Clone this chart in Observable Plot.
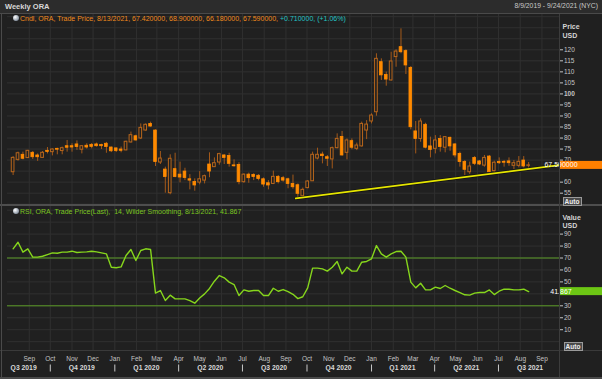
<!DOCTYPE html>
<html><head><meta charset="utf-8">
<script src="https://cdn.jsdelivr.net/npm/d3@7"></script>
<script src="https://cdn.jsdelivr.net/npm/@observablehq/plot@0.6"></script>
<style>
html,body{margin:0;padding:0;background:#202020;}
#wrap{position:relative;width:602px;height:379px;overflow:hidden;background:#202020;font-family:"Liberation Sans",Arial,sans-serif;}
#wrap svg{position:absolute;left:0;top:0;}
.t{position:absolute;white-space:nowrap;line-height:1;}
.ln{position:absolute;}
.auto{position:absolute;width:17px;height:7px;background:#4a4a4a;border:1px solid #9a9a9a;color:#eee;font-size:6.5px;line-height:7px;text-align:center;font-weight:bold;}
.icon{position:absolute;width:6px;height:6px;border-radius:50%;background:radial-gradient(circle at 35% 35%,#ffffff,#9aa4b0 60%,#5a6470);}
</style></head><body><div id="wrap">
<div class="ln" style="left:0;top:0;width:602px;height:13px;background:#2c2c2c;"></div>
<div class="ln" style="left:0;top:13px;width:602px;height:1px;background:#4a4a4a;"></div>
</div>
<script>
// ---- data ----
const startWeek = "2019-08-09";
const open  = [64.5,70.1,72.4,70.9,73.3,72.1,71.0,74.2,73.6,75.1, 74.1,76.3,76.3,77.1,74.7,76.5,76.9,77.1,76.8,77.4,
  75.7,75.3,74.8,74.4,78.0,80.8,79.8,83.4,86.4,83.4, 68.9,65.7,55.0,65.9,63.4,64.8,61.3,60.1,59.8,60.7,
  68.0,66.8,68.9,72.1,71.9,67.6,67.8,60.0,63.4,63.3, 62.9,61.3,59.5,59.2,62.4,61.8,61.3,59.2,58.6,53.6,
  57.3,60.4,70.7,72.5,71.3,70.3,75.4,80.5,73.3,78.6, 75.1,76.2,83.4,87.5,91.7,114.4,108.6,106.1,116.7,121.2,
  119.4,111.8,83.0,79.6,86.0,76.2,75.1,79.6,75.6,80.1, 77.1,72.8,69.1,64.5,71.0,69.4,67.5,71.6,65.0,69.2,
  69.2,69.4,67.4,67.4,69.8,67.42];
const high  = [71.6,73.6,73.6,74.4,73.9,72.8,73.9,75.7,75.1,75.4, 75.9,78.9,77.4,78.7,76.6,77.4,77.5,77.7,77.2,78.0,
  75.9,75.4,75.9,78.6,82.7,81.3,86.4,86.4,87.2,83.7, 73.9,66.8,72.4,73.1,69.1,66.3,63.4,61.5,64.8,63.2,
  73.3,71.0,73.1,72.4,73.1,70.1,68.8,63.8,64.1,63.8, 63.4,61.9,60.7,65.0,63.0,62.6,61.8,63.2,59.2,57.3,
  60.7,73.6,75.4,73.6,72.1,75.9,81.9,83.0,79.6,79.6, 77.7,87.2,87.9,91.0,118.2,115.9,109.9,118.9,120.0,129.5,
  120.0,112.4,87.5,88.7,86.7,80.4,81.1,81.1,80.7,80.4, 77.4,73.6,69.8,69.1,71.6,69.8,72.1,72.1,69.5,71.0,
  69.8,71.0,69.8,71.6,71.6,68.9];
const low   = [63.0,69.5,70.1,70.7,70.3,69.4,70.9,72.8,71.9,72.4, 72.4,73.6,73.6,74.4,72.8,75.0,75.1,75.9,74.8,73.1,
  73.4,73.4,73.3,74.2,77.7,78.6,79.3,83.1,84.9,67.1, 68.0,55.0,54.3,62.0,59.7,60.7,56.5,55.9,58.8,59.2,
  62.0,66.8,67.7,68.0,66.8,66.8,58.8,59.5,59.5,60.7, 60.6,57.7,56.5,58.9,59.2,60.0,57.0,56.8,52.7,53.2,
  57.0,60.3,70.1,68.3,67.1,66.0,75.1,71.8,70.1,74.7, 74.3,75.9,79.3,86.4,89.9,106.1,103.5,105.8,112.1,118.2,
  108.8,83.7,72.8,78.1,75.1,71.0,72.8,73.6,73.3,74.0, 71.0,66.8,63.0,63.5,67.5,67.5,66.8,64.2,64.5,68.0,
  66.8,67.2,65.6,66.5,66.5,66.18];
const close = [71.0,73.1,70.6,74.2,71.3,71.3,73.3,73.7,74.8,74.7, 75.4,75.6,75.7,75.9,76.3,75.7,76.0,76.3,76.3,75.9,
  74.0,74.1,74.2,78.3,81.3,78.9,84.6,86.0,85.2,69.1, 70.7,62.3,70.6,62.3,62.1,61.9,60.7,58.5,61.3,62.7,
  64.8,68.6,72.7,71.0,68.3,67.2,60.0,63.4,61.8,62.3, 61.4,58.9,58.5,62.4,60.0,60.7,59.2,57.7,54.7,56.5,
  60.3,72.4,72.4,71.8,70.6,75.4,79.6,72.1,78.9,75.6, 76.6,86.4,86.1,90.2,115.9,108.4,106.5,114.7,119.2,118.9,
  112.9,84.9,79.6,87.5,75.6,74.6,78.9,75.9,80.4,76.2, 72.1,69.1,65.6,67.1,68.3,68.0,71.0,64.5,68.8,68.6,
  68.8,68.6,68.6,69.2,67.1,67.59];
const rsi = [77.7,83.2,74.9,77.7,70.7,70.7,71.5,72.9,74.3,74.0, 74.9,74.9,75.7,74.6,74.9,75.1,75.7,75.1,74.3,73.5,
  62.3,61.8,62.6,72.1,77.1,67.9,76.3,77.7,77.1,40.6, 42.8,34.4,38.9,35.8,35.8,35.8,34.4,32.2,36.6,40.0,
  44.5,50.6,55.3,53.4,49.8,47.8,38.6,43.3,42.2,42.8, 42.8,38.6,38.6,44.7,42.2,43.6,41.8,39.6,36.0,37.6,
  45.0,61.5,61.5,60.9,59.0,62.3,67.1,56.7,62.3,59.0, 59.0,66.5,67.1,69.3,80.4,73.5,70.7,73.5,75.4,75.7,
  70.7,49.8,45.0,48.9,43.3,43.3,45.6,44.5,47.0,44.7, 42.8,41.1,39.2,38.9,40.6,41.1,41.1,43.3,39.4,42.2,
  43.9,43.9,43.3,43.3,43.9,41.867];
const trendDates = ["2020-09-15","2021-09-26"];
const trendValues = [52.6, 67.7];
const rsiLevels = [70, 30];
// 65 and 40 sit under the last-value tags in the reference, so they are not shown
const priceTicks = [55,60,70,75,80,85,90,95,100,105,110,115,120];
const rsiTicks = [10,20,30,50,60,70,80,90];
const monthLabels = ["Sep","Oct","Nov","Dec","Jan","Feb","Mar","Apr","May","Jun","Jul","Aug",
  "Sep","Oct","Nov","Dec","Jan","Feb","Mar","Apr","May","Jun","Jul","Aug","Sep"];
const quarterNames = ["Q3 2019","Q4 2019","Q1 2020","Q2 2020","Q3 2020","Q4 2020","Q1 2021","Q2 2021","Q3 2021"];
const quarterCenters = ["2019-08-24","2019-11-15","2020-02-15","2020-05-16","2020-08-15","2020-11-15","2021-02-14","2021-05-16","2021-08-15"];
const quarterStarts = ["2019-10-01","2020-01-01","2020-04-01","2020-07-01","2020-10-01","2021-01-01","2021-04-01","2021-07-01"];
const lastPrice = 67.59, lastPriceText = "67.590000";
const lastRsi = 41.867, lastRsiText = "41.867";

// ---- build ----
const wrap = document.getElementById("wrap");
const dates = open.map((_, i) => d3.utcDay.offset(new Date(startWeek), 7 * i));
const candles = dates.map((d, i) => ({date: d, open: open[i], high: high[i], low: low[i], close: close[i]}));
const up = candles.filter(d => d.close >= d.open);
const down = candles.filter(d => d.close < d.open);
const rsiData = dates.map((d, i) => ({date: d, v: rsi[i]}));
const trend = trendDates.map((d, i) => ({date: new Date(d), v: trendValues[i]}));
const monthStarts = d3.utcMonth.range(new Date("2019-09-01"), new Date("2021-10-01"));
const priceGrid = d3.range(50, 136, 5);
const rsiGrid = d3.range(0, 111, 10);

const FONT = "Liberation Sans, Arial, sans-serif";
const X = {type: "utc", domain: [new Date("2019-08-01"), new Date("2021-09-26")], axis: null};
const GRID = "#303030";
const baseStyle = {background: "transparent", color: "#c4c4c4", fontSize: "6.5px", fontFamily: FONT, overflow: "visible"};
const bw = 46; // hours half-width of candle body
const bx1 = d => d3.utcHour.offset(d.date, -bw), bx2 = d => d3.utcHour.offset(d.date, bw);
const by1 = d => Math.min(d.open, d.close), by2 = d => Math.max(d.open, d.close);

const pricePlot = Plot.plot({
  width: 602, height: 379, marginLeft: 7, marginRight: 43, marginTop: 14, marginBottom: 175,
  style: baseStyle,
  x: X,
  y: {domain: [49.87, 136.0], axis: "right", ticks: priceTicks, tickSize: 3, tickPadding: 1.5, tickFormat: d => String(d), label: null},
  marks: [
    Plot.ruleX(monthStarts, {stroke: GRID}),
    Plot.ruleY(priceGrid, {stroke: GRID}),
    Plot.ruleX(candles, {x: "date", y1: "low", y2: "high", stroke: "#a3591a", strokeWidth: 1}),
    Plot.rect(up, {x1: bx1, x2: bx2, y1: by1, y2: by2, fill: "#202020", stroke: "#b8661c", strokeWidth: 1}),
    Plot.rect(down, {x1: bx1, x2: bx2, y1: by1, y2: by2, fill: "#ff8a00", stroke: "#ff8a00", strokeWidth: 0.8}),
    Plot.line(trend, {x: "date", y: "v", stroke: "#111", strokeWidth: 3.2}),
    Plot.line(trend, {x: "date", y: "v", stroke: "#e6e600", strokeWidth: 1.8})
  ]
});

const rsiPlot = Plot.plot({
  width: 602, height: 379, marginLeft: 7, marginRight: 43, marginTop: 206, marginBottom: 29,
  style: baseStyle,
  x: X,
  y: {domain: [-7.4, 113.1], axis: "right", ticks: rsiTicks, tickSize: 3, tickPadding: 1.5, tickFormat: d => String(d), label: null},
  marks: [
    Plot.ruleX(monthStarts, {stroke: GRID}),
    Plot.ruleY(rsiGrid, {stroke: GRID}),
    Plot.ruleY(rsiLevels, {stroke: "#5a9a26", strokeWidth: 1}),
    Plot.line(rsiData, {x: "date", y: "v", stroke: "#86d61c", strokeWidth: 1.4})
  ]
});

const axisPlot = Plot.plot({
  width: 602, height: 379, marginLeft: 7, marginRight: 43, marginTop: 350, marginBottom: 3,
  style: baseStyle,
  x: X,
  y: {domain: [0, 26], axis: null},
  marks: [
    Plot.text(monthStarts, {x: d => d, y: 18, text: (d, i) => monthLabels[i], fill: "#c4c4c4", fontSize: 6.5}),
    Plot.text(quarterCenters.map(d => new Date(d)), {x: d => d, y: 8.4, text: (d, i) => quarterNames[i], fill: "#d8d8d8", fontSize: 6.8, fontWeight: "bold"}),
    Plot.ruleX(quarterStarts.map(d => new Date(d)), {y1: 4.5, y2: 11.5, stroke: "#c8c8c8", strokeWidth: 1})
  ]
});

wrap.append(pricePlot, rsiPlot, axisPlot);

// bold 100
d3.select(pricePlot).selectAll("text").filter(function () { return this.textContent === "100"; }).attr("font-weight", "bold");

function tag(plot, value, txt, bg) {
  const y = plot.scale("y").apply(value);
  const g = d3.select(plot).append("g");
  g.append("rect").attr("x", 559.5).attr("y", y - 4).attr("width", 43).attr("height", 8).attr("fill", bg);
  g.append("text").attr("x", 561).attr("y", y).attr("dy", "0.36em").attr("fill", "#ffffff")
    .style("font-size", "7px").style("font-family", FONT).text(txt);
}
tag(pricePlot, lastPrice, lastPriceText, "#ff8000");
tag(rsiPlot, lastRsi, lastRsiText, "#6cc614");

// frame lines & overlay text
function addDiv(cls, style, html) {
  const el = document.createElement("div");
  el.className = cls; el.setAttribute("style", style); if (html != null) el.innerHTML = html;
  wrap.appendChild(el); return el;
}
addDiv("ln", "left:0;top:204px;width:602px;height:2px;background:#4e4e4e;");
addDiv("ln", "left:0;top:350px;width:602px;height:1px;background:#3a3a3a;");
addDiv("ln", "left:559px;top:14px;width:1px;height:363px;background:#3c3c3c;");
addDiv("ln", "left:1px;top:14px;width:1px;height:363px;background:#4a4a4a;");
addDiv("ln", "left:0;top:377px;width:602px;height:2px;background:#4a4a4a;");

addDiv("t", "left:5px;top:3px;font-size:7.5px;font-weight:bold;color:#d8d8d8;", "Weekly ORA");
addDiv("t", "right:4px;top:3px;font-size:6.8px;color:#c8c8c8;", "8/9/2019 - 9/24/2021 (NYC)");
addDiv("icon", "left:13px;top:15px;");
addDiv("t", "left:20px;top:15px;font-size:7px;color:#f08a1c;",
  "Cndl, ORA, Trade Price, 8/13/2021, 67.420000, 68.900000, 66.180000, 67.590000, <span style='color:#22c4c4'>+0.710000, (+1.06%)</span>");
addDiv("icon", "left:13px;top:207.5px;");
addDiv("t", "left:20px;top:207.5px;font-size:7px;color:#7cc520;",
  "RSI, ORA, Trade Price(Last),&nbsp; 14, Wilder Smoothing, 8/13/2021, 41.867");
addDiv("t", "left:562.5px;top:23px;font-size:7px;font-weight:bold;color:#d4d4d4;", "Price");
addDiv("t", "left:562.5px;top:32.2px;font-size:7px;font-weight:bold;color:#d4d4d4;", "USD");
addDiv("t", "left:562.5px;top:213.5px;font-size:7px;font-weight:bold;color:#d4d4d4;", "Value");
addDiv("t", "left:562.5px;top:222px;font-size:7px;font-weight:bold;color:#d4d4d4;", "USD");
addDiv("auto", "left:562.5px;top:197px;", "Auto");
addDiv("auto", "left:563.5px;top:342px;", "Auto");
</script>
</body></html>
